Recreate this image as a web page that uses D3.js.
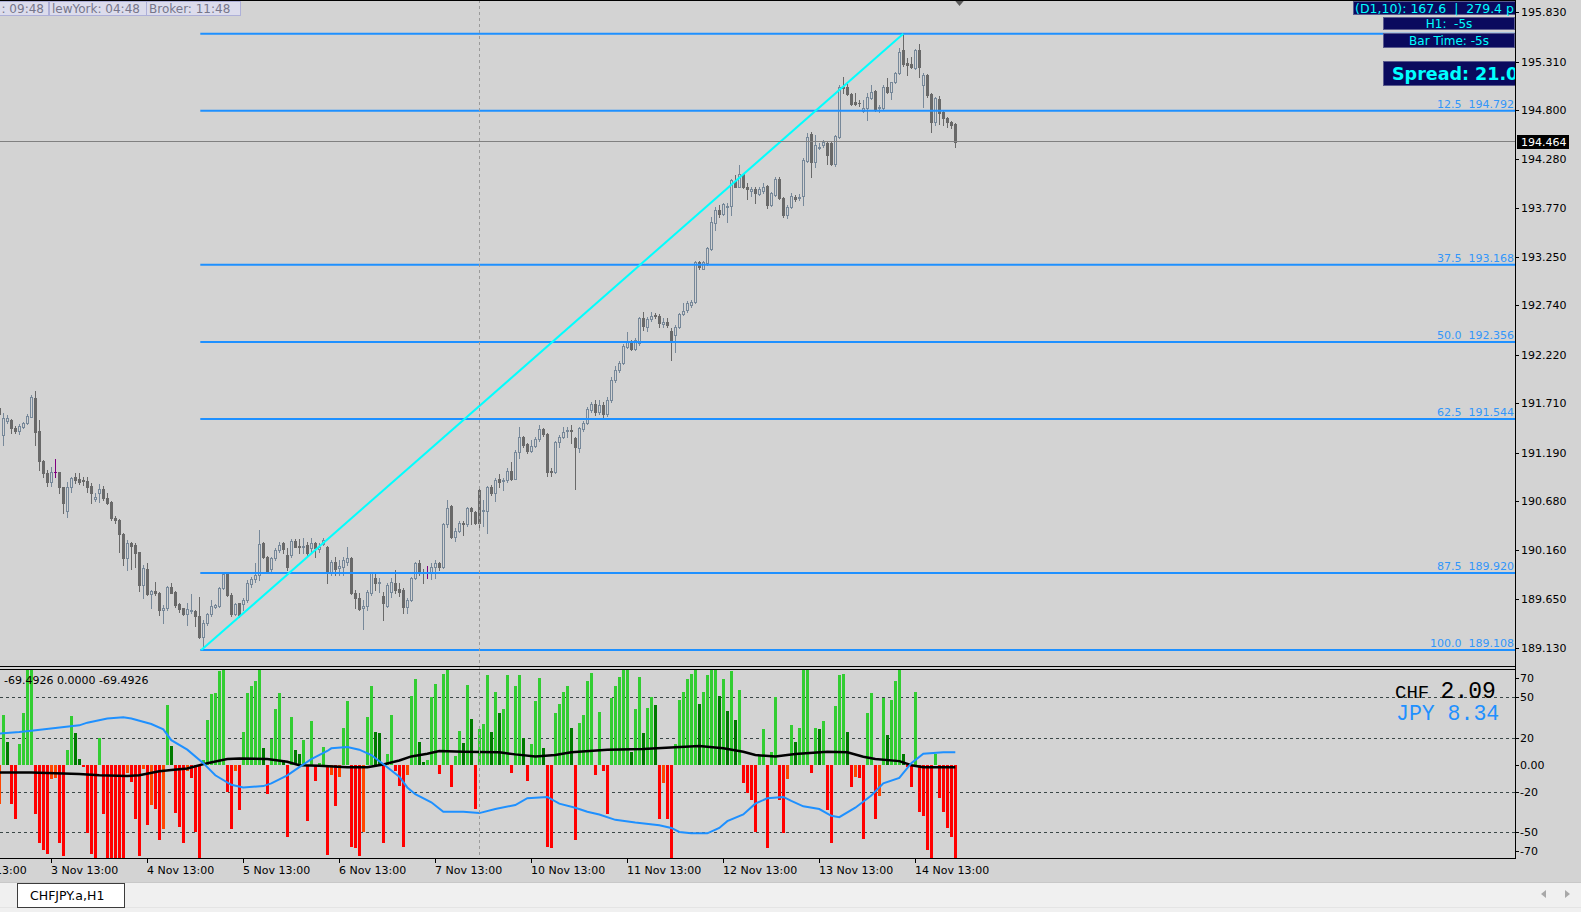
<!DOCTYPE html>
<html><head><meta charset="utf-8">
<script src="https://cdn.jsdelivr.net/npm/d3@7/dist/d3.min.js"></script>
<style>
html,body{margin:0;padding:0;background:#D3D3D3;overflow:hidden}
svg{display:block}
text{font-family:"DejaVu Sans",Verdana,sans-serif;white-space:pre}
</style></head><body>
<svg id="c" width="1581" height="912"></svg>
<script>
// ---------------- DATA ----------------
const opens = [191.660,
191.376,191.527,191.534,191.453,191.421,191.463,191.505,191.569,191.762,191.418,
191.102,190.979,190.884,190.982,190.982,190.824,190.578,190.824,190.930,190.912,
190.901,190.891,190.838,190.698,190.768,190.803,190.708,190.666,190.505,190.480,
190.332,190.076,190.234,190.217,190.139,189.795,189.960,189.697,189.732,189.714,
189.532,189.549,189.771,189.718,189.595,189.549,189.486,189.518,189.521,189.469,
189.251,189.391,189.486,189.567,189.574,189.760,189.911,189.690,189.486,189.602,
189.595,189.637,189.806,189.858,189.900,190.234,190.094,189.960,190.076,190.164,
190.234,190.111,190.111,190.262,190.206,190.192,190.217,190.182,190.234,190.171,
190.227,190.199,189.925,190.041,189.971,189.988,190.041,190.076,189.708,189.655,
189.549,189.574,189.708,189.866,189.813,189.679,189.574,189.725,189.820,189.750,
189.743,189.567,189.637,189.866,190.024,189.936,189.925,189.925,189.982,190.024,
189.982,190.438,190.628,190.298,190.368,190.452,190.438,190.603,190.568,190.796,
190.572,190.579,190.824,190.761,190.909,190.895,190.902,190.997,190.916,191.200,
191.358,191.278,191.211,191.260,191.330,191.436,191.386,191.000,190.990,191.306,
191.358,191.415,191.429,191.341,191.235,191.436,191.499,191.639,191.700,191.620,
191.690,191.600,191.740,191.950,192.061,192.131,192.307,192.367,192.279,192.349,
192.605,192.518,192.595,192.637,192.634,192.542,192.563,192.472,192.430,192.518,
192.651,192.693,192.746,192.774,193.195,193.129,193.185,193.332,193.613,193.747,
193.705,193.782,193.789,194.056,193.993,194.126,193.993,193.951,193.972,193.915,
193.951,194.000,193.799,193.905,194.070,193.870,193.694,193.782,193.887,193.870,
193.898,194.263,194.544,194.256,194.407,194.432,194.449,194.449,194.228,194.520,
195.046,195.043,194.966,194.881,194.878,194.790,194.818,194.930,195.001,194.818,
194.825,195.043,194.994,195.092,195.187,195.433,195.292,195.282,195.246,195.433,
195.064,195.169,194.966,194.671,194.916,194.776,194.720,194.671,194.649];

const highs = [191.700,
191.604,191.590,191.541,191.470,191.488,191.516,191.597,191.797,191.839,191.534,
191.112,191.007,191.035,191.119,190.982,190.831,190.884,190.937,190.972,190.972,
190.937,190.937,190.866,190.761,190.859,190.838,190.768,190.684,190.522,190.487,
190.339,190.269,190.245,190.234,190.139,190.006,190.030,189.743,189.830,189.725,
189.584,189.785,189.820,189.736,189.602,189.556,189.602,189.697,189.532,189.672,
189.426,189.497,189.637,189.595,189.778,189.925,189.925,189.707,189.602,189.609,
189.655,189.848,189.883,190.030,190.375,190.252,190.101,190.094,190.182,190.252,
190.252,190.182,190.276,190.276,190.276,190.287,190.252,190.287,190.252,190.234,
190.287,190.206,190.059,190.094,190.059,190.094,190.199,190.094,189.743,189.708,
189.637,189.743,189.936,189.936,189.866,189.725,189.820,189.866,189.953,189.813,
189.760,189.655,189.883,190.041,190.059,189.960,189.996,190.031,190.059,190.041,
190.445,190.691,190.638,190.393,190.473,190.473,190.614,190.614,190.572,190.803,
190.691,190.839,190.849,190.919,190.965,190.919,191.025,191.095,191.218,191.457,
191.365,191.288,191.323,191.351,191.481,191.446,191.393,191.025,191.316,191.376,
191.464,191.464,191.481,191.351,191.457,191.527,191.674,191.720,191.745,191.740,
191.720,191.780,191.990,192.100,192.150,192.330,192.458,192.377,192.395,192.623,
192.676,192.623,192.676,192.658,192.648,192.605,192.605,192.500,192.535,192.665,
192.763,192.792,192.799,193.213,193.213,193.213,193.361,193.677,193.782,193.799,
193.824,193.817,194.070,194.116,194.221,194.133,194.028,193.986,193.986,193.993,
194.035,194.010,193.940,194.091,194.098,193.887,193.799,193.922,193.900,193.910,
194.291,194.555,194.565,194.537,194.449,194.480,194.467,194.467,194.537,195.064,
195.152,195.071,194.976,194.976,194.906,194.906,194.976,195.064,195.011,194.853,
195.064,195.134,195.099,195.204,195.450,195.604,195.352,195.362,195.443,195.492,
195.187,195.176,194.976,194.941,194.951,194.790,194.730,194.685,194.660];

const lows = [191.590,
191.270,191.505,191.393,191.400,191.386,191.446,191.491,191.562,191.270,191.007,
190.937,190.838,190.838,190.937,190.761,190.557,190.508,190.778,190.866,190.859,
190.849,190.778,190.663,190.684,190.673,190.691,190.649,190.480,190.452,190.146,
190.006,189.953,189.960,189.988,189.736,189.655,189.690,189.549,189.690,189.479,
189.391,189.532,189.707,189.567,189.514,189.479,189.374,189.497,189.363,189.240,
189.108,189.374,189.469,189.549,189.560,189.750,189.679,189.469,189.476,189.461,
189.532,189.620,189.778,189.830,189.848,190.076,189.925,189.936,190.059,190.146,
190.129,189.953,190.094,190.192,190.136,190.136,190.111,190.129,190.094,190.146,
190.217,189.813,189.901,189.901,189.901,189.901,190.006,189.700,189.549,189.532,
189.328,189.532,189.690,189.743,189.725,189.420,189.560,189.665,189.708,189.679,
189.497,189.497,189.630,189.855,189.901,189.813,189.866,189.855,189.866,189.954,
189.971,190.410,190.287,190.263,190.357,190.322,190.417,190.438,190.438,190.403,
190.417,190.340,190.744,190.684,190.824,190.796,190.884,190.902,190.909,191.130,
191.253,191.190,191.200,191.246,191.316,191.365,190.944,190.944,190.979,191.253,
191.341,191.358,191.288,190.803,191.200,191.422,191.492,191.620,191.590,191.600,
191.560,191.580,191.720,191.930,192.040,192.120,192.289,192.272,192.272,192.325,
192.483,192.472,192.581,192.605,192.511,192.518,192.518,192.166,192.247,192.500,
192.641,192.676,192.728,192.763,193.129,193.122,193.167,193.325,193.536,193.677,
193.691,193.624,193.694,193.986,193.986,193.975,193.859,193.894,193.817,193.905,
193.929,193.764,193.789,193.894,193.859,193.677,193.659,193.771,193.840,193.850,
193.800,194.256,194.098,194.203,194.390,194.414,194.228,194.221,194.214,194.502,
194.976,194.958,194.853,194.853,194.846,194.776,194.695,194.916,194.790,194.776,
194.811,194.976,194.916,195.081,195.176,195.268,195.169,195.239,195.232,195.152,
194.836,194.941,194.565,194.642,194.649,194.642,194.625,194.607,194.414];

const closes = [191.600,
191.551,191.551,191.446,191.421,191.470,191.505,191.576,191.779,191.411,191.102,
190.979,190.884,190.982,190.982,190.824,190.663,190.824,190.919,190.901,190.884,
190.891,190.831,190.768,190.726,190.803,190.708,190.663,190.498,190.480,190.332,
190.076,190.234,190.210,190.136,189.795,189.971,189.697,189.732,189.714,189.532,
189.556,189.771,189.714,189.584,189.542,189.486,189.539,189.532,189.469,189.251,
189.391,189.486,189.574,189.584,189.760,189.911,189.690,189.486,189.595,189.479,
189.637,189.820,189.858,189.900,190.224,190.087,189.946,190.076,190.164,190.217,
190.171,189.981,190.262,190.199,190.192,190.206,190.129,190.234,190.182,190.199,
190.269,189.925,190.041,189.960,189.995,190.059,190.076,189.708,189.655,189.539,
189.574,189.725,189.918,189.813,189.830,189.602,189.795,189.830,189.743,189.725,
189.567,189.637,189.866,190.031,189.918,189.918,189.925,189.982,190.024,189.982,
190.438,190.603,190.298,190.368,190.445,190.438,190.603,190.579,190.452,190.452,
190.586,190.824,190.761,190.902,190.884,190.902,190.997,190.916,191.200,191.351,
191.271,191.211,191.260,191.330,191.436,191.386,190.990,190.986,191.306,191.358,
191.411,191.429,191.415,191.253,191.446,191.506,191.646,191.700,191.620,191.690,
191.600,191.740,191.950,192.060,192.131,192.314,192.367,192.279,192.377,192.605,
192.525,192.595,192.630,192.630,192.553,192.563,192.535,192.377,192.518,192.651,
192.683,192.763,192.781,193.202,193.143,193.195,193.343,193.624,193.747,193.705,
193.810,193.793,194.063,193.993,194.126,193.986,193.965,193.965,193.922,193.965,
193.986,193.799,193.922,194.070,193.870,193.694,193.782,193.898,193.863,193.887,
194.274,194.520,194.256,194.432,194.414,194.460,194.326,194.228,194.527,195.046,
195.029,194.966,194.864,194.867,194.874,194.818,194.941,194.994,194.800,194.836,
195.046,194.994,195.092,195.187,195.415,195.282,195.275,195.257,195.433,195.257,
195.169,194.958,194.671,194.923,194.765,194.720,194.671,194.642,194.464];

const histValues = [-29,
37,17,-29,-40,15,38,72,75,-37,-58,
-63,-66,-11,-10,-58,-68,11,36,23,4,
-2,-51,-66,-72,20,-37,-70,-72,-74,-76,
-78,-6,-13,-40,-68,-3,-45,-30,-33,-56,
-48,44,14,-36,-46,-58,-5,-10,-50,-72,
3,33,52,53,69,72,-20,-48,-5,-34,
24,53,58,62,72,12,-22,19,41,53,
3,-54,35,11,8,18,-42,32,-12,1,
13,-67,-8,-31,-9,27,47,-61,-62,-68,
-50,35,58,24,23,-58,8,37,-5,-16,
-61,-8,51,63,17,2,3,50,60,-7,
67,72,-17,6,25,16,59,34,-33,26,
30,66,24,54,38,41,66,-6,58,66,
20,-12,15,47,64,12,-61,-62,38,45,
54,58,27,-56,31,37,62,68,-8,39,
-5,-37,49,58,65,71,73,9,41,65,
23,42,50,44,-40,-14,-40,-72,15,48,
54,63,67,71,45,54,66,71,73,51,
63,40,69,33,55,-14,-21,-26,-50,7,
26,-62,9,50,-26,-51,-11,29,17,27,
71,73,-6,27,26,32,-34,-58,43,66,
67,24,-17,-9,-10,-55,38,53,-40,-23,
49,22,48,62,72,8,-2,-17,54,-35,
-38,-63,-72,8,-25,-35,-47,-54,-72];

const blueIdx  = [0,5,8,14,20,22,27,31,33,38,41,43,47,51,54,58,61,66,68,72,75,78,82,83,87,90,93,97,100,102,104,108,111,116,120,124,129,132,137,140,144,147,150,154,159,165,168,170,173,177,180,182,186,189,192,196,198,201,205,208,210,214,218,221,225,228,231,236,239];
const blueVals = [23,24,25,27,29,31,34,35,34,30,26,18,11,1,-8,-15,-17,-16,-14,-8,-2,4,10,12,13,11,7,-2,-9,-17,-22,-28,-35,-35,-36,-33,-30,-25,-24,-29,-32,-35,-37,-41,-43,-45,-47,-50,-51,-51,-47,-42,-37,-29,-25,-24,-27,-31,-33,-38,-39,-32,-23,-14,-10,1,8,9,9];
const blackIdx  = [0,8,20,25,32,35,40,43,47,52,57,60,67,72,75,80,87,92,96,100,103,107,110,116,125,129,134,139,143,152,161,169,175,181,186,189,194,199,207,212,216,219,225,228,231,239];
const blackVals = [-6,-6,-7,-8,-8.5,-8,-5,-4,-3,1,4,4.5,4,2,-0.5,-1,-2,-2,0,3,6,8,10,9.5,9,7.5,6,7,9,11,11.5,12.7,13.7,12,9.5,7,6,7.7,9.5,9,5.7,4,2.5,-0.5,-2,-2];

const priceTicks = [195.830,195.310,194.800,194.280,193.770,193.250,192.740,192.220,191.710,191.190,190.680,190.160,189.650,189.130];
const fibLevels = [0,12.5,37.5,50,62.5,87.5,100];
const fibPrices = [195.604,194.792,193.168,192.356,191.544,189.920,189.108];
const fibFromIdx = 50.5, fibToIdx = 226;
const currentPrice = 194.464;
const subTicks = [70,50,20,0,-20,-50,-70];
const subTickLabels = ["70","50","20","0.00","-20","-50","-70"];
const subGrid = [50,20,-20,-50];
const timeIdx = [-11,13,37,61,85,109,133,157,181,205,229];
const timeLabels = ["31 Oct 13:00","3 Nov 13:00","4 Nov 13:00","5 Nov 13:00","6 Nov 13:00","7 Nov 13:00","10 Nov 13:00","11 Nov 13:00","12 Nov 13:00","13 Nov 13:00","14 Nov 13:00"];
const separatorIdx = 120;
const shiftIdx = 240;
const clockLabels = [": 09:48","lewYork: 04:48","Broker: 11:48"];
const infoLabels = ["(D1,10): 167.6  |  279.4 p","H1:  -5s","Bar Time: -5s","Spread: 21.00"];
const subValueText = "-69.4926 0.0000 -69.4926";
const strengthNames = ["CHF","JPY"];
const strengthValues = ["2.09","8.34"];
const tabLabel = "CHFJPY.a,H1";

// ---------------- LAYOUT ----------------
const W = 1581, H = 912, R = 1515;
const mainBottom = 667, subTop = 669, subBottom = 859;
const bg = "#D3D3D3";
const svg = d3.select("#c");
svg.append("rect").attr("width", W).attr("height", H).attr("fill", bg);

const x = d3.scaleLinear().domain([0, 239]).range([-0.7, 955.3]);
const cx = i => Math.floor(x(i)) + 0.5;
const y = d3.scaleLinear().domain([189.13, 195.83]).range([648, 12.3]);
const ys = d3.scaleLinear().domain([-70, 70]).range([859, 670]);

const defs = svg.append("defs");
defs.append("clipPath").attr("id", "cm").append("rect").attr("x", 0).attr("y", 0).attr("width", R).attr("height", mainBottom);
defs.append("clipPath").attr("id", "cs").append("rect").attr("x", 0).attr("y", subTop + 1).attr("width", R).attr("height", subBottom - subTop - 1);

const main = svg.append("g").attr("clip-path", "url(#cm)");
const sub = svg.append("g").attr("clip-path", "url(#cs)");

// separator dashed line
svg.append("line").attr("x1", cx(separatorIdx)).attr("x2", cx(separatorIdx)).attr("y1", 0).attr("y2", subBottom)
  .attr("stroke", "#9A9A9A").attr("stroke-dasharray", "3,3");

// candles
const idx = d3.range(opens.length);
const cg = main.append("g").attr("shape-rendering", "crispEdges");
idx.forEach(i => {
  const o = opens[i], c = closes[i], h = highs[i], l = lows[i];
  const X = cx(i);
  const doji = o === c, bull = c > o;
  const col = doji ? "#800080" : (bull ? "#778899" : "#696969");
  cg.append("line").attr("x1", X).attr("x2", X).attr("y1", Math.round(y(h))).attr("y2", Math.round(y(l)) + 1).attr("stroke", col);
  const top = Math.round(y(Math.max(o, c))), bot = Math.round(y(Math.min(o, c)));
  if (doji) {
    cg.append("rect").attr("x", X - 1.5).attr("y", top).attr("width", 3).attr("height", 1).attr("fill", col);
  } else if (bull) {
    cg.append("rect").attr("x", X - 1).attr("y", top + 0.5).attr("width", 2).attr("height", Math.max(bot - top, 1))
      .attr("fill", bg).attr("stroke", col);
  } else {
    cg.append("rect").attr("x", X - 1.5).attr("y", top).attr("width", 3).attr("height", Math.max(bot - top + 1, 1)).attr("fill", col);
  }
});

// fibo lines
const fx0 = x(fibFromIdx) - 1;
fibPrices.forEach((p, k) => {
  main.append("line").attr("x1", fx0).attr("x2", R).attr("y1", y(p)).attr("y2", y(p))
    .attr("stroke", "#1E90FF").attr("stroke-width", 2);
});
// trend line
main.append("line").attr("x1", x(fibFromIdx)).attr("y1", y(fibPrices[6])).attr("x2", x(fibToIdx)).attr("y2", y(fibPrices[0]))
  .attr("stroke", "#00FFFF").attr("stroke-width", 2);
// current price line
main.append("line").attr("x1", 0).attr("x2", R).attr("y1", Math.floor(y(currentPrice)) + 0.5).attr("y2", Math.floor(y(currentPrice)) + 0.5)
  .attr("stroke", "#808080");
// fib labels
fibPrices.forEach((p, k) => {
  if (k === 0) return;
  main.append("text").attr("x", R - 1).attr("y", y(p) - 3).attr("text-anchor", "end")
    .attr("font-size", 11).attr("fill", "#3296FA").text(fibLevels[k].toFixed(1) + "  " + p.toFixed(3));
});

// info boxes (top right)
const boxFill = "#0A0A5E", boxStroke = "#5A5A8E", cyan = "#00FFFF";
main.append("rect").attr("x", 1353.5).attr("y", 1.5).attr("width", 175).attr("height", 13).attr("fill", boxFill).attr("stroke", boxStroke);
main.append("text").attr("x", 1355).attr("y", 12.5).attr("font-size", 12.5).attr("fill", cyan).text(infoLabels[0]);
main.append("rect").attr("x", 1383.5).attr("y", 17.5).attr("width", 131).attr("height", 12).attr("fill", boxFill).attr("stroke", boxStroke);
main.append("text").attr("x", 1449).attr("y", 28).attr("text-anchor", "middle").attr("font-size", 12).attr("fill", cyan).text(infoLabels[1]);
main.append("rect").attr("x", 1383.5).attr("y", 33.5).attr("width", 131).attr("height", 14).attr("fill", boxFill).attr("stroke", boxStroke);
main.append("text").attr("x", 1449).attr("y", 45).attr("text-anchor", "middle").attr("font-size", 12).attr("fill", cyan).text(infoLabels[2]);
main.append("rect").attr("x", 1383.5).attr("y", 61.5).attr("width", 140).attr("height", 24).attr("fill", boxFill).attr("stroke", boxStroke);
main.append("text").attr("x", 1392).attr("y", 80).attr("font-size", 17.5).attr("font-weight", "bold").attr("fill", cyan).text(infoLabels[3]);

// clock boxes (top left)
const clockX = [-1, 49.5, 146.5], clockW = [49.5, 97, 94];
clockLabels.forEach((t, k) => {
  main.append("rect").attr("x", clockX[k]).attr("y", 1.5).attr("width", clockW[k]).attr("height", 14)
    .attr("fill", "#DCDCEC").attr("stroke", "#AEB0D8");
  main.append("text").attr("x", clockX[k] + 2.5).attr("y", 13).attr("font-size", 12).attr("fill", "#76768A").text(t);
});

// shift marker
main.append("path").attr("d", `M${cx(shiftIdx) - 5},0 L${cx(shiftIdx) + 5},0 L${cx(shiftIdx)},6 Z`).attr("fill", "#5A5A5A");

// borders
svg.append("line").attr("x1", 0).attr("x2", R).attr("y1", 0.5).attr("y2", 0.5).attr("stroke", "#000");
svg.append("line").attr("x1", 0).attr("x2", R).attr("y1", mainBottom - 0.5).attr("y2", mainBottom - 0.5).attr("stroke", "#000");
svg.append("line").attr("x1", 0).attr("x2", R).attr("y1", subTop + 0.5).attr("y2", subTop + 0.5).attr("stroke", "#000");
svg.append("line").attr("x1", 0).attr("x2", R).attr("y1", subBottom - 0.5).attr("y2", subBottom - 0.5).attr("stroke", "#000");

// price axis
svg.append("line").attr("x1", R + 0.5).attr("x2", R + 0.5).attr("y1", 0).attr("y2", subBottom).attr("stroke", "#000");
priceTicks.forEach(p => {
  const yy = Math.round(y(p)) + 0.5;
  svg.append("line").attr("x1", R + 1).attr("x2", R + 4).attr("y1", yy).attr("y2", yy).attr("stroke", "#000");
  svg.append("text").attr("x", R + 6).attr("y", y(p) + 4).attr("font-size", 11).attr("fill", "#000").text(p.toFixed(3));
});
const cpY = y(currentPrice);
svg.append("rect").attr("x", R + 2).attr("y", Math.round(cpY) - 7).attr("width", 52).attr("height", 14).attr("fill", "#000");
svg.append("text").attr("x", R + 6).attr("y", cpY + 4).attr("font-size", 11).attr("fill", "#fff").text(currentPrice.toFixed(3));

// ---------------- SUB PANEL ----------------
subGrid.forEach(v => {
  sub.append("line").attr("x1", 0).attr("x2", R).attr("y1", Math.round(ys(v)) + 0.5).attr("y2", Math.round(ys(v)) + 0.5)
    .attr("stroke", "#3A4646").attr("stroke-dasharray", "3,3");
});
const hg = sub.append("g").attr("shape-rendering", "crispEdges");
histValues.forEach((v, i) => {
  const prev = i > 0 ? histValues[i - 1] : undefined;
  let col;
  if (v >= 0) col = (prev === undefined || v >= prev) ? "#32CD32" : "#007A00";
  else col = (prev === undefined || v > prev) ? "#FF4500" : "#FF0000";
  const y0 = Math.round(ys(0)), y1 = Math.round(ys(v));
  hg.append("rect").attr("x", Math.floor(x(i)) - 1).attr("width", 3)
    .attr("y", Math.min(y0, y1)).attr("height", Math.max(Math.abs(y1 - y0), 1)).attr("fill", col);
});
sub.append("path").datum(blackVals)
  .attr("d", d3.line().x((d, k) => x(blackIdx[k])).y(d => ys(d)))
  .attr("fill", "none").attr("stroke", "#000").attr("stroke-width", 2.5);
sub.append("path").datum(blueVals)
  .attr("d", d3.line().x((d, k) => x(blueIdx[k])).y(d => ys(d)))
  .attr("fill", "none").attr("stroke", "#1E90FF").attr("stroke-width", 2);

sub.append("text").attr("x", 4).attr("y", 684).attr("font-size", 11).attr("fill", "#000").text(subValueText);
const mono = "'Liberation Mono','DejaVu Sans Mono',monospace";
const t1 = sub.append("text").attr("x", 1395).attr("y", 698).style("font-family", mono).attr("fill", "#000");
t1.append("tspan").attr("font-size", 19).text(strengthNames[0] + " ");
t1.append("tspan").attr("font-size", 23).text(strengthValues[0]);
sub.append("text").attr("x", 1396).attr("y", 720).style("font-family", mono).attr("font-size", 21.5).attr("fill", "#1E90FF")
  .text(strengthNames[1] + " " + strengthValues[1]);

subTicks.forEach((v, k) => {
  const yy = Math.min(Math.max(ys(v), 678), 851);
  svg.append("line").attr("x1", R + 1).attr("x2", R + 4).attr("y1", Math.round(yy) + 0.5).attr("y2", Math.round(yy) + 0.5).attr("stroke", "#000");
  svg.append("text").attr("x", R + 5).attr("y", yy + 4).attr("font-size", 11).attr("fill", "#000").text(subTickLabels[k]);
});

// ---------------- TIME AXIS ----------------
timeIdx.forEach((ti, k) => {
  const X = cx(ti);
  svg.append("line").attr("x1", X).attr("x2", X).attr("y1", subBottom).attr("y2", subBottom + 4).attr("stroke", "#000");
  svg.append("text").attr("x", X - 0.5).attr("y", 874).attr("font-size", 11).attr("fill", "#000").text(timeLabels[k]);
});

// ---------------- TAB BAR ----------------
svg.append("rect").attr("x", 0).attr("y", 882).attr("width", W).attr("height", 30).attr("fill", "#F0F0F0");
svg.append("line").attr("x1", 0).attr("x2", W).attr("y1", 882.5).attr("y2", 882.5).attr("stroke", "#C8C8C8");
svg.append("line").attr("x1", 0).attr("x2", W).attr("y1", 907.5).attr("y2", 907.5).attr("stroke", "#E4E4E4");
svg.append("rect").attr("x", 17.5).attr("y", 883.5).attr("width", 107).attr("height", 24).attr("fill", "#FFFFFF").attr("stroke", "#3C3C3C");
svg.append("text").attr("x", 30).attr("y", 900).attr("font-size", 12.5).attr("fill", "#000").text(tabLabel);
svg.append("path").attr("d", "M1541,894 L1546,890 L1546,898 Z").attr("fill", "#A8A8A8");
svg.append("path").attr("d", "M1570,894 L1565,890 L1565,898 Z").attr("fill", "#A8A8A8");
</script>
</body></html>
